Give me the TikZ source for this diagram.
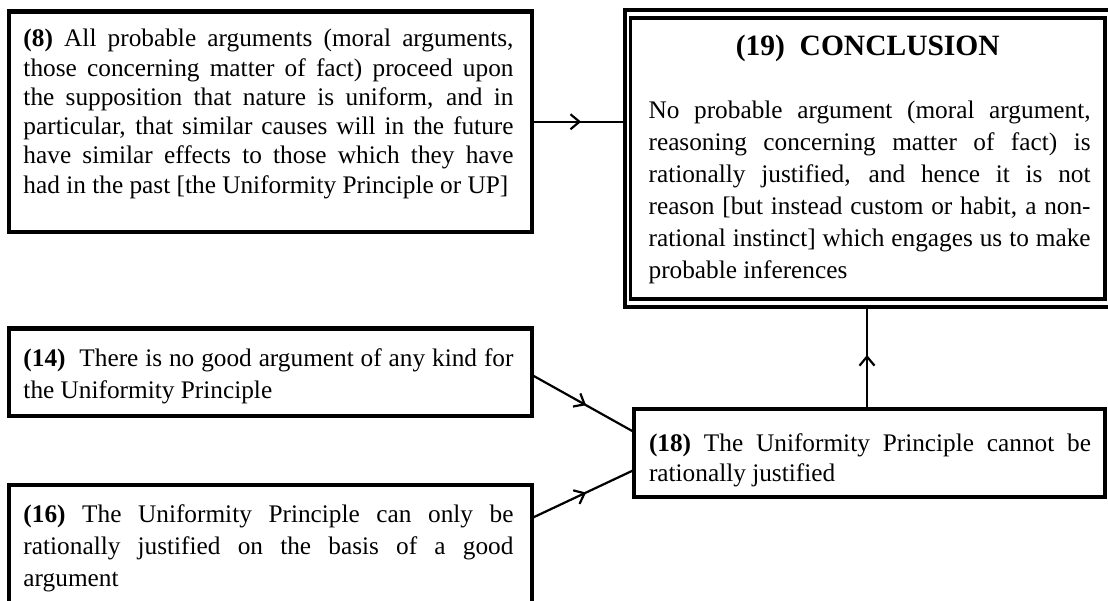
\documentclass[tikz,border=0pt]{standalone}
\usepackage{fontspec}
\setmainfont{Liberation Serif}
\usetikzlibrary{arrows.meta,decorations.markings}

% text column inside a box: left indent and column width
\newlength{\padl}
\newlength{\tw}
% one justified line, and one left-aligned (last) line
\newcommand{\jline}[1]{\noindent\hspace*{\padl}\makebox[\tw][s]{\strut#1}\par}
\newcommand{\lline}[1]{\noindent\hspace*{\padl}\makebox[\tw][l]{\strut#1}\par}
% box body: width, height, top gap, font size, line spacing, lines
\newcommand{\boxpar}[6]{\parbox[c][#2][t]{#1}{\fontsize{#4}{#5}\selectfont\vspace*{#3}#6}}

\tikzset{
  box/.style={draw, line width=4.5pt, inner sep=0pt, outer sep=0pt, anchor=north west},
  frame/.style={draw, line width=4pt, inner sep=0pt, outer sep=0pt, anchor=north west},
  conn/.style={line width=2.2pt, postaction={decorate},
    decoration={markings, mark=at position 0.53 with
      {\arrow{Straight Barb[length=9pt,width=15pt,line width=2.2pt]}}}}
}

\begin{document}
\begin{tikzpicture}[x=1pt,y=-1pt]
\useasboundingbox (0,0) rectangle (1108,601);

% premise (8)
\node[box] (b8) at (9,11.5) {\setlength{\padl}{14.5pt}\setlength{\tw}{490pt}%
  \boxpar{523pt}{220.5pt}{14.7pt}{25.3}{29.3}{%
  \jline{\textbf{(8)} All probable arguments (moral arguments,}
  \jline{those concerning matter of fact) proceed upon}
  \jline{the supposition that nature is uniform, and in}
  \jline{particular, that similar causes will in the future}
  \jline{have similar effects to those which they have}
  \lline{had in the past [the Uniformity Principle or UP]}}};

% premise (14)
\node[box] (b14) at (9,328.5) {\setlength{\padl}{14.5pt}\setlength{\tw}{490pt}%
  \boxpar{523pt}{87.5pt}{16.3pt}{25.3}{31.3}{%
  \jline{\textbf{(14)}\ \ There is no good argument of any kind for}
  \lline{the Uniformity Principle}}};

% premise (16)
\node[box] (b16) at (9,485) {\setlength{\padl}{14.5pt}\setlength{\tw}{490pt}%
  \boxpar{523pt}{135pt}{15.3pt}{25.3}{32}{%
  \jline{\textbf{(16)} The Uniformity Principle can only be}
  \jline{rationally justified on the basis of a good}
  \lline{argument}}};

% intermediate conclusion (18)
\node[box] (b18) at (634,409) {\setlength{\padl}{15pt}\setlength{\tw}{442pt}%
  \boxpar{471pt}{88pt}{22pt}{25.3}{29.5}{%
  \jline{\textbf{(18)} The Uniformity Principle cannot be}
  \lline{rationally justified}}};

% final conclusion (19), double frame
\node[frame] (c19out) at (624.8,10.3) [minimum width=488.2pt, minimum height=296.7pt] {};
\node[box, line width=3.5pt] (c19) at (630.6,18) {\setlength{\padl}{18pt}\setlength{\tw}{442pt}%
  \boxpar{474.4pt}{281pt}{15pt}{25.3}{32.1}{%
  \noindent\makebox[\linewidth][c]{\strut{\fontsize{29.5}{35}\selectfont\bfseries (19)\ \ CONCLUSION}}\par
  \vspace{30.5pt}
  \jline{No probable argument (moral argument,}
  \jline{reasoning concerning matter of fact) is}
  \jline{rationally justified, and hence it is not}
  \jline{reason [but instead custom or habit, a non-}
  \jline{rational instinct] which engages us to make}
  \lline{probable inferences}}};

% inference arrows
\draw[conn] (b8.east) -- (b8.east -| c19out.west);
\draw[conn] ([yshift=-2.75pt]b14.east) -- ([yshift=21pt]b18.west);
\draw[conn] ([yshift=-33pt]b16.north east) -- ([yshift=-17pt]b18.west);
\draw[conn] ([xshift=-2.5pt]b18.north) -- ([xshift=-2.5pt]b18.north |- c19out.south);
\end{tikzpicture}
\end{document}
